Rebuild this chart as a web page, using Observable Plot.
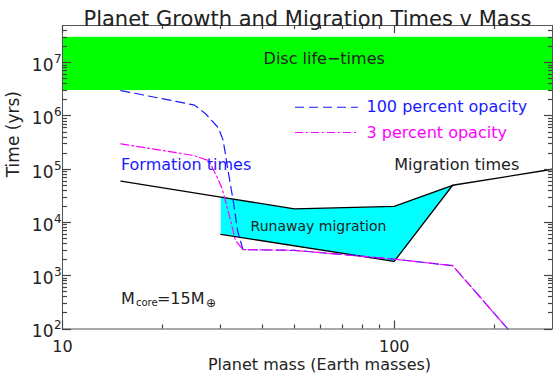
<!DOCTYPE html>
<html><head><meta charset="utf-8">
<script src="https://cdn.jsdelivr.net/npm/d3@7"></script>
<script src="https://cdn.jsdelivr.net/npm/@observablehq/plot@0.6"></script>
<style>body{margin:0;background:#fff}svg{display:block}</style>
</head><body><div id="chart"></div>
<script>
// ---- data ----
const xDomain = [10, 300];
const yDomain = [100, 5e7];

const discMass = [10, 300];
const discTime = [3e6, 3e7];

const migMass = [15, 30, 50, 100, 150, 300];
const migTime = [6e4, 3e4, 1.8e4, 2e4, 5e4, 1e5];

const runMass = [30, 50, 100, 150, 100, 30];
const runTime = [3e4, 1.8e4, 2e4, 5e4, 1.86e3, 6e3];
const runEdgeMass = [30, 100, 150];
const runEdgeTime = [6e3, 1.86e3, 5e4];

const op100Mass = [15, 25, 27, 29.5, 30.5, 31.7, 32.8, 33.7, 35, 50, 100, 150, 220];
const op100Time = [3e6, 1.6e6, 1.1e6, 6e5, 3.5e5, 8e4, 2.3e4, 7e3, 3.1e3, 3e3, 2.05e3, 1.55e3, 100];
const op3Mass = [15, 25, 27.6, 29.3, 30.3, 32.1, 33.2, 35, 50, 100, 150, 220];
const op3Time = [3e5, 1.8e5, 1.45e5, 7e4, 4.3e4, 1.1e4, 4.6e3, 3.1e3, 3e3, 2.05e3, 1.55e3, 100];

const legendLabels = ["100 percent opacity", "3 percent opacity"];
const legendLineMass = [50.4, 78];
const legendTextMass = 82.5;
const legendTime = [1.46e6, 4.9e5];

const xMajor = [10, 100];
const xTickLabels = ["10", "100"];
const xMinor = [20, 30, 40, 50, 60, 70, 80, 90, 200];
const yMajor = [1e2, 1e3, 1e4, 1e5, 1e6, 1e7];
const yTickBase = "10";
const yTickExp = ["2", "3", "4", "5", "6", "7"];
const yMinor = [];
for (let e = 2; e <= 7; e++) for (let k = 2; k <= 9; k++) { const v = k * 10 ** e; if (v < 5e7) yMinor.push(v); }

const title = "Planet Growth and Migration Times v Mass";
const xLabel = "Planet mass (Earth masses)";
const yLabel = "Time (yrs)";

// ---- tables ----
const pts = (ms, ts) => ms.map((m, i) => ({m, t: ts[i]}));
const disc = [{m1: discMass[0], m2: discMass[1], t1: discTime[0], t2: discTime[1]}];
const ink = "#222";
const blue = "#1a1aff";
const magenta = "#ff00ff";
const tickInk = "#444";

// inward ticks on all four sides, positioned by the plot's own scales
function inwardTicks(index, scales, values, dimensions) {
  const {width, height, marginLeft, marginRight, marginTop, marginBottom} = dimensions;
  const L = marginLeft, R = width - marginRight, T = marginTop, B = height - marginBottom;
  const g = d3.create("svg:g").attr("stroke", tickInk).attr("fill", "none").attr("stroke-width", 1.2);
  const add = d => g.append("path").attr("d", d);
  for (const [vals, len] of [[yMinor, 5], [yMajor, 9]]) {
    for (const v of vals) {
      const y = Math.round(scales.y(v)) + 0.5;
      add(`M${L},${y}h${len}`);
      add(`M${R},${y}h${-len + 1}`);
    }
  }
  for (const [vals, len] of [[xMinor, 4], [xMajor, 8]]) {
    for (const v of vals) {
      const x = Math.round(scales.x(v)) + 0.5;
      add(`M${x},${B}v${-len}`);
      add(`M${x},${T}v${len}`);
    }
  }
  return g.node();
}

const chart = Plot.plot({
  width: 553, height: 378,
  marginLeft: 62, marginRight: 1, marginTop: 25, marginBottom: 49.5,
  style: {fontFamily: "DejaVu Sans", background: "#fff", color: ink, overflow: "visible"},
  x: {type: "log", domain: xDomain},
  y: {type: "log", domain: yDomain, axis: null},
  marks: [
    Plot.rect(disc, {x1: "m1", x2: "m2", y1: "t1", y2: "t2", fill: "#00ff00"}),
    Plot.text(["Disc life\u2212times"], {x: () => 61.5, y: () => 1.2e7, text: d => d, fontSize: 16, fill: ink}),
    Plot.line(pts(runMass, runTime), {x: "m", y: "t", fill: "#00ffff", stroke: "none", curve: "linear-closed"}),
    Plot.line(pts(runEdgeMass, runEdgeTime), {x: "m", y: "t", stroke: "#000", strokeWidth: 1.3}),
    Plot.line(pts(migMass, migTime), {x: "m", y: "t", stroke: "#000", strokeWidth: 1.3}),
    Plot.line(pts(op100Mass, op100Time), {x: "m", y: "t", stroke: blue, strokeWidth: 1.2, strokeDasharray: "9,5"}),
    Plot.line(pts(op3Mass, op3Time), {x: "m", y: "t", stroke: magenta, strokeWidth: 1.2, strokeDasharray: "8,3,2,3"}),
    // legend
    Plot.ruleY([legendTime[0]], {x1: legendLineMass[0], x2: legendLineMass[1], stroke: blue, strokeWidth: 1.2, strokeDasharray: "9,5"}),
    Plot.ruleY([legendTime[1]], {x1: legendLineMass[0], x2: legendLineMass[1], stroke: magenta, strokeWidth: 1.2, strokeDasharray: "8,3,2,3"}),
    Plot.text([0], {x: () => legendTextMass, y: () => legendTime[0], text: () => legendLabels[0], textAnchor: "start", fontSize: 16, fill: blue}),
    Plot.text([0], {x: () => legendTextMass, y: () => legendTime[1], text: () => legendLabels[1], textAnchor: "start", fontSize: 16, fill: magenta}),
    // annotations
    Plot.text(["Formation times"], {x: () => 15, y: () => 1.2e5, text: d => d, textAnchor: "start", fontSize: 16, fill: blue}),
    Plot.text(["Migration times"], {x: () => 100, y: () => 1.2e5, text: d => d, textAnchor: "start", fontSize: 16, fill: ink}),
    Plot.text(["Runaway migration"], {x: () => 36.9, y: () => 8.3e3, text: d => d, textAnchor: "start", fontSize: 14, fill: ink}),
    Plot.text(["M"], {x: () => 15, y: () => 370, text: d => d, textAnchor: "start", fontSize: 16, fill: ink}),
    Plot.text(["core"], {x: () => 15, y: () => 370, text: d => d, textAnchor: "start", fontSize: 10, dx: 15, dy: 4, fill: ink}),
    Plot.text(["=15M"], {x: () => 15, y: () => 370, text: d => d, textAnchor: "start", fontSize: 16, dx: 36, fill: ink}),
    Plot.text(["\u2295"], {x: () => 15, y: () => 370, text: d => d, textAnchor: "start", fontSize: 12, dx: 85, dy: 4, fill: ink}),
    // frame & ticks
    Plot.frame({stroke: "#555"}),
    inwardTicks,
    // tick labels
    Plot.axisX(xMajor, {anchor: "bottom", tickSize: 0, tickPadding: 12, tickFormat: d => xTickLabels[xMajor.indexOf(d)], fontSize: 16, fill: ink, label: null}),
    Plot.text(yMajor, {y: d => d, frameAnchor: "left", text: () => yTickBase, textAnchor: "end", dx: -9, dy: 3, fontSize: 17, fill: ink}),
    Plot.text(yMajor, {y: d => d, frameAnchor: "left", text: (d, i) => yTickExp[i], textAnchor: "start", dx: -8.5, dy: -3.5, fontSize: 12, fill: ink}),
    // titles
    Plot.text([title], {frameAnchor: "top", dy: -14, text: d => d, fontSize: 21, fill: ink}),
    Plot.text([xLabel], {frameAnchor: "bottom", dx: 12, dy: 40.5, text: d => d, fontSize: 16, fill: ink}),
    Plot.text([yLabel], {frameAnchor: "left", rotate: -90, dx: -49, text: d => d, fontSize: 17, fill: ink})
  ]
});
document.getElementById("chart").appendChild(chart);
</script>
</body></html>
